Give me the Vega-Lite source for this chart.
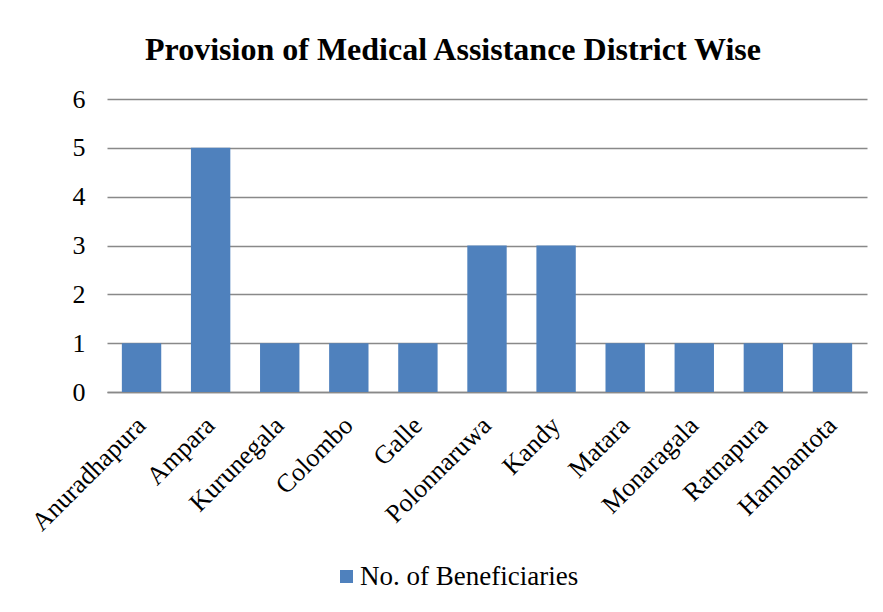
{
  "$schema": "https://vega.github.io/schema/vega-lite/v6.json",
  "autosize": "none",
  "width": 760,
  "height": 293,
  "padding": {"left": 107, "top": 99, "right": 16, "bottom": 220},
  "background": "white",
  "title": {
    "text": "Provision of Medical Assistance District Wise",
    "font": "Liberation Serif",
    "fontSize": 32,
    "fontWeight": "bold",
    "color": "black",
    "anchor": "middle",
    "frame": "group",
    "dx": -34,
    "offset": 19
  },
  "data": {
    "values": [
      {"district": "Anuradhapura", "series": "No. of Beneficiaries", "value": 1},
      {"district": "Ampara", "series": "No. of Beneficiaries", "value": 5},
      {"district": "Kurunegala", "series": "No. of Beneficiaries", "value": 1},
      {"district": "Colombo", "series": "No. of Beneficiaries", "value": 1},
      {"district": "Galle", "series": "No. of Beneficiaries", "value": 1},
      {"district": "Polonnaruwa", "series": "No. of Beneficiaries", "value": 3},
      {"district": "Kandy", "series": "No. of Beneficiaries", "value": 3},
      {"district": "Matara", "series": "No. of Beneficiaries", "value": 1},
      {"district": "Monaragala", "series": "No. of Beneficiaries", "value": 1},
      {"district": "Ratnapura", "series": "No. of Beneficiaries", "value": 1},
      {"district": "Hambantota", "series": "No. of Beneficiaries", "value": 1}
    ]
  },
  "mark": {"type": "bar"},
  "encoding": {
    "x": {
      "field": "district",
      "type": "nominal",
      "sort": null,
      "scale": {"paddingInner": 0.43, "paddingOuter": 0.215},
      "axis": {
        "title": null,
        "labelAngle": -45,
        "labelAlign": "right",
        "labelBaseline": "middle",
        "labelFont": "Liberation Serif",
        "labelFontSize": 26,
        "labelColor": "black",
        "labelPadding": 29,
        "labelLimit": 0,
        "ticks": false,
        "domainColor": "#898989",
        "domainWidth": 1.5,
        "labelOverlap": false
      }
    },
    "y": {
      "field": "value",
      "type": "quantitative",
      "scale": {"domain": [0, 6]},
      "axis": {
        "title": null,
        "values": [0, 1, 2, 3, 4, 5, 6],
        "labelFont": "Liberation Serif",
        "labelFontSize": 26,
        "labelColor": "black",
        "labelPadding": 22,
        "ticks": false,
        "domain": false,
        "gridColor": "#898989",
        "gridWidth": 1.5
      }
    },
    "color": {
      "field": "series",
      "type": "nominal",
      "scale": {"range": ["#4F81BD"]},
      "legend": {
        "title": null,
        "orient": "none",
        "legendX": 226,
        "legendY": 464,
        "symbolType": "square",
        "symbolSize": 169,
        "symbolStrokeWidth": 0,
        "labelFont": "Liberation Serif",
        "labelFontSize": 27,
        "labelColor": "black",
        "labelOffset": 0,
        "labelLimit": 0
      }
    }
  },
  "config": {
    "view": {"stroke": null}
  }
}
